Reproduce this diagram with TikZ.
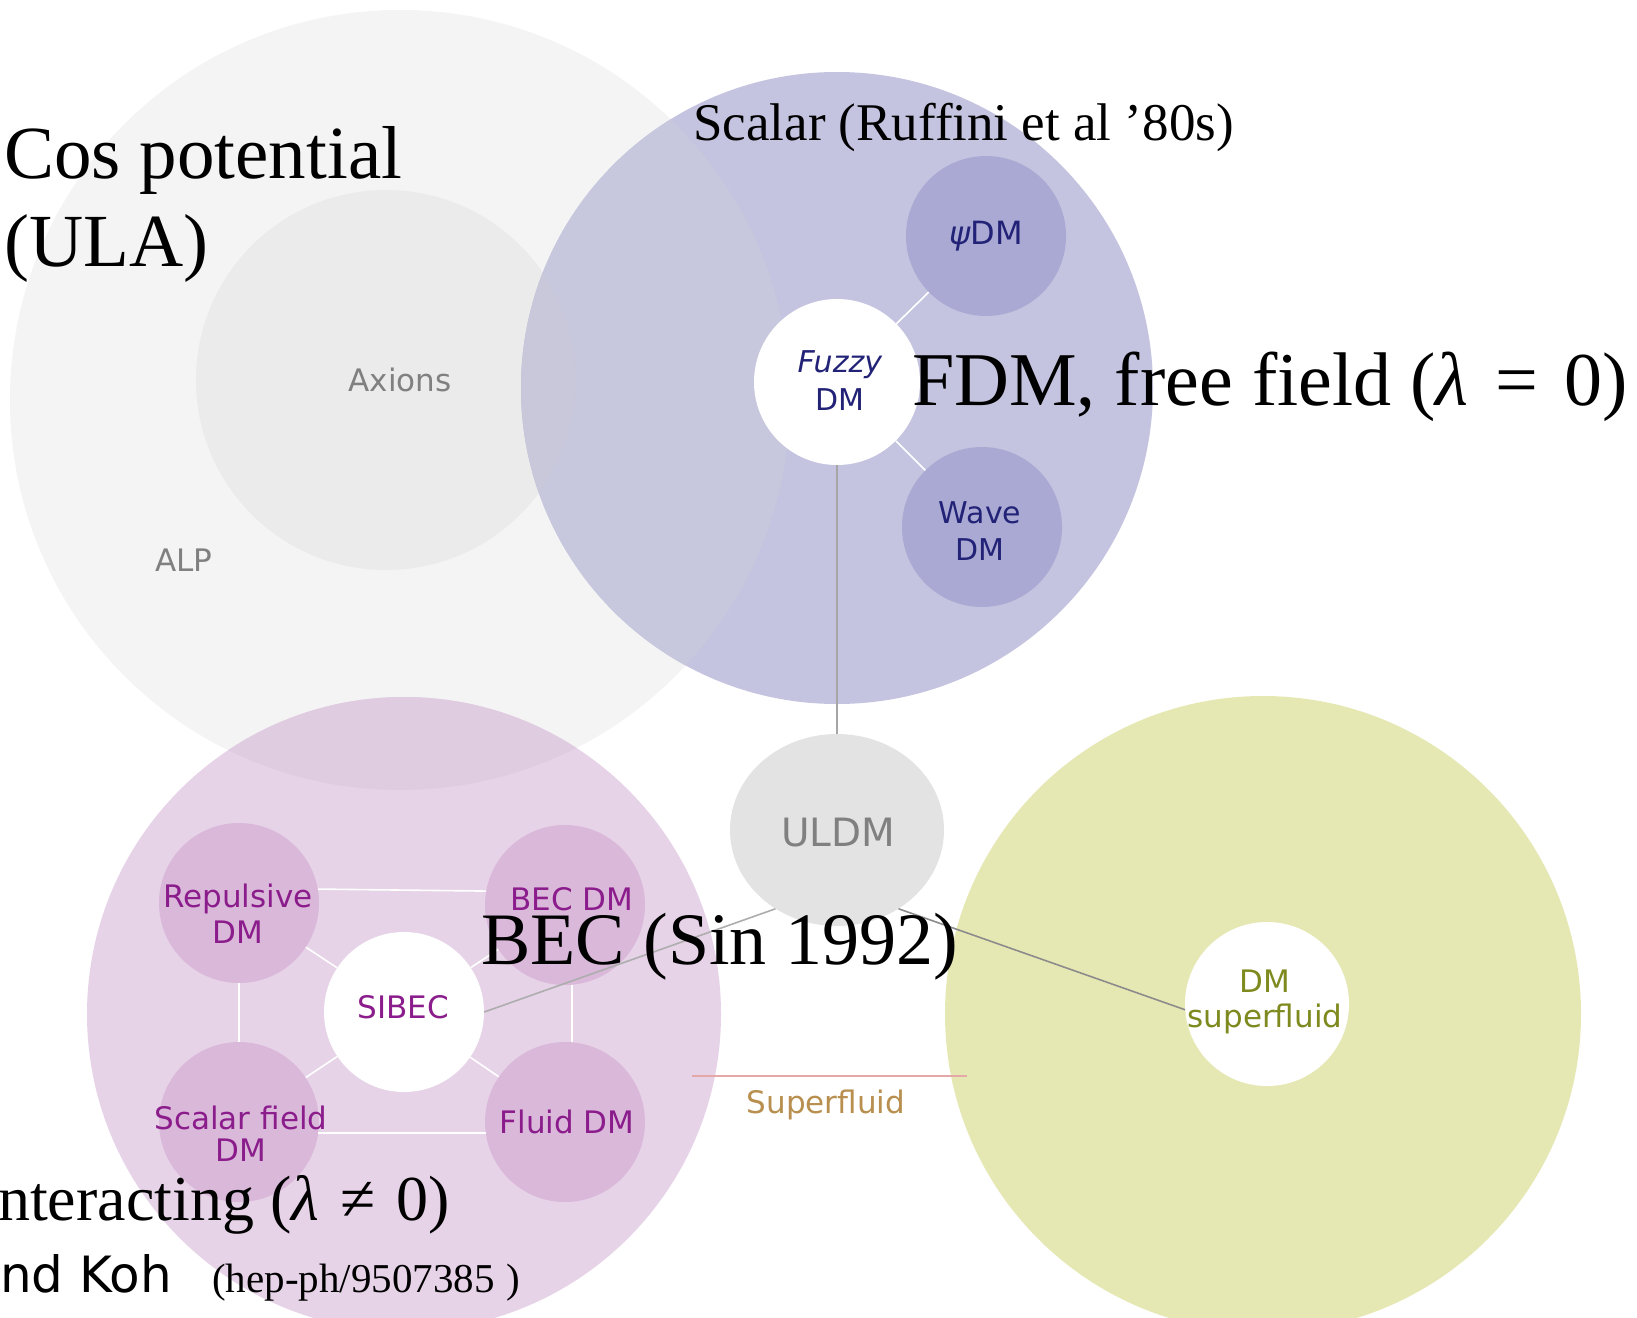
\documentclass[tikz,border=0pt]{standalone}
\usepackage{fontspec}
\setmainfont{Liberation Serif}
\newfontfamily\labfont{DejaVu Sans}
\usetikzlibrary{shapes.geometric}

\definecolor{alpc}{HTML}{F4F4F4}
\definecolor{axc}{HTML}{EBEBEB}
\definecolor{scalc}{HTML}{C4C4E0}
\definecolor{scalalp}{HTML}{C7C7DD}
\definecolor{scalax}{HTML}{C8C8DA}
\definecolor{scalin}{HTML}{A9A9D3}
\definecolor{pinkc}{HTML}{E7D3E8}
\definecolor{pinkalp}{HTML}{E0CCE1}
\definecolor{pinkin}{HTML}{DAB8DA}
\definecolor{yelc}{HTML}{E6E8B4}
\definecolor{uldmc}{HTML}{E3E3E3}
\definecolor{navytxt}{HTML}{222277}
\definecolor{purptxt}{HTML}{8B1C8B}
\definecolor{olivetxt}{HTML}{7E8A1E}
\definecolor{sftan}{HTML}{B88F4E}
\definecolor{sfline}{HTML}{E4A8A8}
\definecolor{greytxt}{HTML}{808080}

\begin{document}
\begin{tikzpicture}[x=1pt,y=-1pt,
  disc/.style={circle,inner sep=0pt,draw=none},
  lab/.style={font=\labfont\fontsize{31}{36}\selectfont, align=center, inner sep=0pt},
  ann/.style={anchor=base west, inner sep=0pt, text=black},
  wline/.style={draw=white, line width=1.6pt},
  gline/.style={draw=black!35, line width=1.6pt}]

\useasboundingbox[fill=white] (0,0) rectangle (1637,1317);

% big regions
\node[disc, fill=alpc, minimum size=780pt] (alp) at (400,400) {};
\node[disc, fill=axc, minimum size=380pt] (axions) at (386,380) {};
\node[disc, fill=scalc, minimum size=632pt] (scalar) at (837,388) {};
\begin{scope}
  \clip (837,388) circle[radius=316];
  \fill[scalalp] (400,400) circle[radius=390];
  \fill[scalax] (386,380) circle[radius=190];
\end{scope}
\node[disc, fill=pinkc, minimum size=634pt] (pink) at (404,1014) {};
\begin{scope}
  \clip (404,1014) circle[radius=317];
  \fill[pinkalp] (400,400) circle[radius=390];
\end{scope}
\node[disc, fill=yelc, minimum size=636pt] (yellow) at (1263,1014) {};

% scalar inner
\node[disc, fill=white, minimum size=166pt] (fuzzy) at (837,382) {};
\node[disc, fill=scalin, minimum size=160pt] (psi) at (986,236) {};
\node[disc, fill=scalin, minimum size=160pt] (wave) at (982,527) {};

% ULDM
\node[ellipse, fill=uldmc, minimum width=214pt, minimum height=192pt, inner sep=0pt] (uldm) at (837,830) {};

% pink inner
\node[disc, fill=white, minimum size=160pt] (sibec) at (404,1012) {};
\node[disc, fill=pinkin, minimum size=160pt] (rep) at (239,903) {};
\node[disc, fill=pinkin, minimum size=160pt] (bec) at (565,905) {};
\node[disc, fill=pinkin, minimum size=160pt] (sf) at (239,1122) {};
\node[disc, fill=pinkin, minimum size=160pt] (fluid) at (565,1122) {};

% yellow inner
\node[disc, fill=white, minimum size=164pt] (dmsf) at (1267,1004) {};

% connectors
\draw[wline] (fuzzy) -- (psi);
\draw[wline] (fuzzy) -- (wave);
\draw[gline] (fuzzy) -- (uldm);
\draw[wline] (rep.10) -- (bec.170);
\draw[wline] (sf.-8) -- (fluid.188);
\draw[wline] (rep.south) -- (sf.north);
\draw[wline] (bec.-85) -- (fluid.85);
\draw[wline] (sibec) -- (rep);
\draw[wline] (sibec) -- (bec);
\draw[wline] (sibec) -- (sf);
\draw[wline] (sibec) -- (fluid);
\draw[gline, draw=black!32] (sibec.east) -- (uldm.232);
\draw[gline, draw=black!45] (uldm.-52) -- (dmsf.184);
\coordinate (sfa) at (692,1076);
\coordinate (sfb) at (967,1076);
\draw[draw=sfline, line width=1.6pt] (sfa) -- (sfb);

% labels
\node[lab, text=greytxt] (axlab) at (400,380) {Axions};
\node[lab, text=greytxt] (alplab) at (184,560) {ALP};
\node[lab, text=navytxt, font=\labfont\fontsize{30}{38}\selectfont] (fuzzylab) at (840,381) {\textit{Fuzzy}\\DM};
\node[lab, text=navytxt, font=\labfont\fontsize{32}{36}\selectfont] (psilab) at (986,236) {\textit{ψ}DM};
\node[lab, text=navytxt, font=\labfont\fontsize{30}{37}\selectfont] (wavelab) at (980,531) {Wave\\DM};
\node[lab, text=greytxt, font=\labfont\fontsize{39}{44}\selectfont] (uldmlab) at (838,833) {ULDM};
\node[lab, text=purptxt] (replab) at (238,914) {Repulsive\\DM};
\node[lab, text=purptxt] (beclab) at (572,899) {BEC DM};
\node[lab, text=purptxt] (sibeclab) at (403,1007) {SIBEC};
\node[lab, text=purptxt, font=\labfont\fontsize{31}{32}\selectfont] (sflab) at (241,1134) {Scalar field\\DM};
\node[lab, text=purptxt] (fluidlab) at (567,1122) {Fluid DM};
\node[lab, text=olivetxt, font=\labfont\fontsize{31}{35}\selectfont] (dmsflab) at (1265,1002) {DM\\superfluid};
\node[lab, text=sftan] (superlab) at (826,1105) {Superfluid};

% annotations
\node[ann, font=\fontsize{75}{87}\selectfont] (cosA) at (4,178) {Cos potential};
\node[ann, font=\fontsize{75}{87}\selectfont] (cosB) at (4,266) {(ULA)};
\node[ann, font=\fontsize{53}{60}\selectfont] (ruff) at (693,140) {Scalar (Ruffini et al ’80s)};
\node[ann, font=\fontsize{76}{84}\selectfont] (fdm) at (912,405) {FDM, free field (\textit{λ}\hspace{0.1em} = \hspace{0.1em}0)};
\node[ann, font=\fontsize{74}{82}\selectfont] (becsin) at (481,964) {BEC (Sin 1992)};
\node[ann, font=\fontsize{64}{70}\selectfont] (inter) at (-2,1220) {nteracting (\textit{λ}\hspace{0.08em} ≠ \hspace{0.08em}0)};
\node[ann, font=\labfont\fontsize{50}{56}\selectfont] (koh) at (0,1292) {nd Koh};
\node[ann, font=\fontsize{41}{46}\selectfont] (hep) at (212,1292) {(hep-ph/9507385\hspace{0.3em})};
\end{tikzpicture}
\end{document}
